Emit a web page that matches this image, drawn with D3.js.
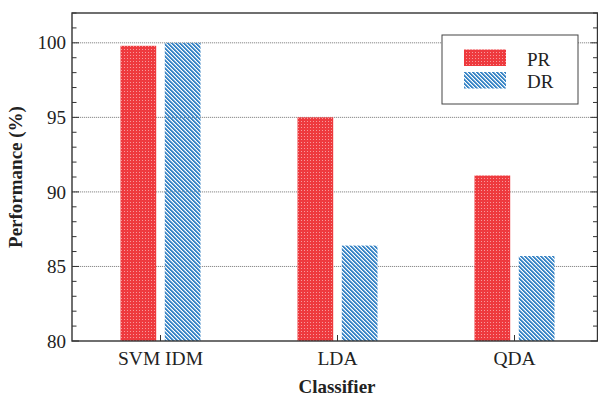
<!DOCTYPE html>
<html><head><meta charset="utf-8">
<script src="https://cdn.jsdelivr.net/npm/d3@7"></script>
<style>body{margin:0;background:#fff}svg{display:block}</style>
</head><body>
<svg id="c" width="598" height="396"></svg>
<script>
const categories = ["SVM IDM", "LDA", "QDA"];
const seriesNames = ["PR", "DR"];
const PR = [99.8, 95.0, 91.1];
const DR = [100.0, 86.4, 85.7];
const yTicks = [80, 85, 90, 95, 100];
const yMinorTicks = d3.range(80, 103, 1);

(function(){
const svg = d3.select("#c");
const mLeft = 72, mTop = 13, mBottom = 341, frameRight = 597.5;
const x = d3.scaleBand().domain(categories).range([mLeft, 603]);
const x1 = d3.scaleBand().domain(seriesNames).range([-40, 40]).paddingInner(0.194);
const y = d3.scaleLinear().domain([80, 102]).range([mBottom, mTop]);

const defs = svg.append("defs");
const pr = defs.append("pattern").attr("id","pPR").attr("patternUnits","userSpaceOnUse").attr("width",3).attr("height",3);
pr.append("rect").attr("width",3).attr("height",3).attr("fill","#ee3a3e");
pr.append("rect").attr("x",1).attr("y",1).attr("width",1).attr("height",1).attr("fill","#f79a9c");
const dr = defs.append("pattern").attr("id","pDR").attr("patternUnits","userSpaceOnUse").attr("width",4).attr("height",4);
[0,1,2,3].forEach(r=>{
  [0,1].forEach(k=>{
    dr.append("rect").attr("x",(r+k)%4).attr("y",r).attr("width",1).attr("height",1).attr("fill","#3b86c6").attr("shape-rendering","crispEdges");
  });
  dr.append("rect").attr("x",(r+2)%4).attr("y",r).attr("width",1).attr("height",1).attr("fill","#9cc3e3").attr("shape-rendering","crispEdges");
});

// grid
svg.append("g").selectAll("line").data(yTicks.filter(d=>d>80)).join("line")
  .attr("x1",mLeft).attr("x2",frameRight).attr("y1",d=>y(d)).attr("y2",d=>y(d))
  .attr("stroke","#8a8a8a").attr("stroke-width",1).attr("stroke-dasharray","1.2,0.8");

// bars
const data = categories.map((c,i)=>({c, vals:[{s:"PR",v:PR[i]},{s:"DR",v:DR[i]}]}));
const g = svg.append("g");
data.forEach(d=>{
  const cx = x(d.c) + x.bandwidth()/2;
  d.vals.forEach(b=>{
    g.append("rect").attr("x",cx + x1(b.s)).attr("width",x1.bandwidth())
      .attr("y",y(b.v)).attr("height",y(80)-y(b.v))
      .attr("fill", b.s==="PR" ? "url(#pPR)" : "url(#pDR)");
  });
});

// axis ticks (inward)
const ax = svg.append("g").attr("stroke","#333").attr("stroke-width",1);
yMinorTicks.forEach(t=>{
  const major = yTicks.includes(t);
  ax.append("line").attr("x1",mLeft).attr("x2",mLeft+(major?7:4.5)).attr("y1",y(t)).attr("y2",y(t));
  ax.append("line").attr("x1",frameRight).attr("x2",frameRight-(major?7:4.5)).attr("y1",y(t)).attr("y2",y(t));
});
categories.forEach(c=>{
  const cx = x(c)+x.bandwidth()/2;
  ax.append("line").attr("x1",cx).attr("x2",cx).attr("y1",mBottom).attr("y2",mBottom-6);
});
// frame
svg.append("rect").attr("x",mLeft).attr("y",mTop).attr("width",frameRight-mLeft).attr("height",mBottom-mTop)
  .attr("fill","none").attr("stroke","#333").attr("stroke-width",1.4);

// y labels
svg.append("g").selectAll("text").data(yTicks).join("text")
  .attr("x",66).attr("y",d=>y(d)).attr("dy","0.35em").attr("text-anchor","end")
  .attr("font-family","Liberation Serif").attr("font-size",19).attr("fill","#222").text(d=>d);
// x labels
svg.append("g").selectAll("text").data(categories).join("text")
  .attr("x",d=>x(d)+x.bandwidth()/2).attr("y",364.5).attr("text-anchor","middle")
  .attr("font-family","Liberation Serif").attr("font-size",19.5).attr("fill","#222").text(d=>d);
// axis titles
svg.append("text").attr("x",337).attr("y",393).attr("text-anchor","middle")
  .attr("font-family","Liberation Serif").attr("font-weight","bold").attr("font-size",19).attr("fill","#222").text("Classifier");
svg.append("text").attr("transform","translate(22,177) rotate(-90)").attr("text-anchor","middle")
  .attr("font-family","Liberation Serif").attr("font-weight","bold").attr("font-size",19).attr("fill","#222").text("Performance (%)");

// legend
const lg = svg.append("g");
lg.append("rect").attr("x",442).attr("y",35).attr("width",136).attr("height",69).attr("fill","#fff").attr("stroke","#444").attr("stroke-width",1);
seriesNames.forEach((s,i)=>{
  lg.append("rect").attr("x",464).attr("y",49.5+i*22.5).attr("width",42).attr("height",16.5).attr("fill", s==="PR"?"url(#pPR)":"url(#pDR)");
  lg.append("text").attr("x",527).attr("y",65.5+i*22.5).attr("font-family","Liberation Serif").attr("font-size",19).attr("fill","#222").text(s);
});
})();
</script>
</body></html>
